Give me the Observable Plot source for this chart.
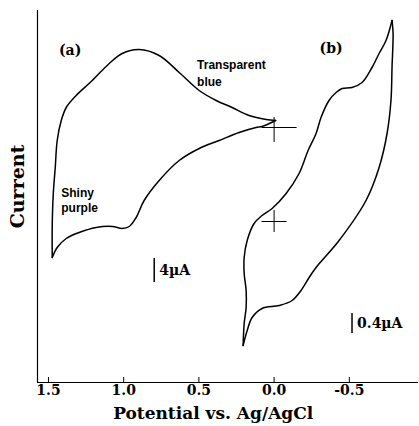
<!DOCTYPE html>
<html><head><meta charset="utf-8">
<script src="https://cdn.jsdelivr.net/npm/d3@7"></script>
<script src="https://cdn.jsdelivr.net/npm/@observablehq/plot@0.6"></script>
<style>body{margin:0;background:#fff;}</style>
</head><body><div id="chart"></div>
<script>
// Potential (V vs Ag/AgCl), current (arbitrary units)
const xTicks = [1.5, 1.0, 0.5, 0.0, -0.5];

// Panel (a): oxidation branch (upper) from 0.0 V to 1.5 V
const aUpper = [[-0.01,262],[0.053,263],[0.166,267],[0.279,275],[0.385,282],[0.498,292],[0.631,310],[0.764,327],[0.897,333],[1.010,329],[1.096,319],[1.209,302],[1.316,287],[1.382,275],[1.415,262],[1.442,242],[1.455,215],[1.468,189],[1.475,157],[1.475,125]];
// Panel (a): reduction branch (lower) from 1.5 V back to 0.0 V
const aLower = [[1.475,125],[1.442,135],[1.382,144],[1.296,150],[1.183,155],[1.076,156],[1.010,154],[0.963,156],[0.917,165],[0.864,182],[0.764,202],[0.631,222],[0.498,234],[0.365,242],[0.233,250],[0.120,255],[0.080,256],[-0.01,262]];
// Panel (b): branch from -0.8 V toward 0.2 V
const bUpper = [[-0.784,362],[-0.744,342],[-0.698,329],[-0.651,315],[-0.585,300],[-0.518,295],[-0.452,294],[-0.412,290],[-0.365,282],[-0.312,265],[-0.279,249],[-0.226,232],[-0.166,209],[-0.080,189],[0.013,174],[0.080,167],[0.133,159],[0.179,142],[0.199,125],[0.199,109],[0.186,92],[0.186,75],[0.199,59],[0.206,37]];
// Panel (b): branch from 0.2 V back to -0.8 V
const bLower = [[0.206,37],[0.179,52],[0.146,65],[0.080,74],[-0.033,77],[-0.120,82],[-0.179,92],[-0.233,105],[-0.279,115],[-0.432,142],[-0.611,182],[-0.698,215],[-0.751,249],[-0.777,282],[-0.784,315],[-0.791,349],[-0.784,362]];

// Crosshair markers (zero current reference)
const crossH = [{x1:0.08, x2:-0.153, y:255}, {x1:0.08, x2:-0.086, y:161}];
const crossV = [{x:0, y1:240, y2:265}, {x:0, y1:150, y2:172}];

// Current scale bars
const scaleBars = [{x:0.797, y1:100, y2:124, label:"4µA"}, {x:-0.518, y1:49, y2:69, label:"0.4µA"}];
const panelLabels = [{x:1.356, y:332, text:"(a)"}, {x:-0.379, y:334, text:"(b)"}];
const stateLabels = [{x:0.512, y:317, text:"Transparent"}, {x:0.512, y:300, text:"blue"}, {x:1.415, y:189, text:"Shiny"}, {x:1.415, y:174, text:"purple"}];

const toRows = (arr, s) => arr.map(([v, i]) => ({v, i, s}));
const curves = [
  ...toRows(aUpper, "a-ox"), ...toRows(aLower, "a-red"),
  ...toRows(bUpper, "b-1"), ...toRows(bLower, "b-2")
];

const serif = "DejaVu Serif";
const sans = "Liberation Sans, Arial, sans-serif";

const plot = Plot.plot({
  width: 419, height: 426,
  marginLeft: 37, marginRight: 1, marginTop: 10, marginBottom: 44,
  style: {background: "white", fontFamily: serif, color: "black"},
  x: {domain: [1.573, -0.96]},
  y: {domain: [0, 372], axis: null},
  marks: [
    Plot.axisX({ticks: xTicks, tickFormat: d => d.toFixed(1), tickSize: 0, tickPadding: 3,
      fontSize: 14, fontWeight: "bold", fontFamily: serif, label: null}),
    Plot.ruleX(xTicks, {y1: 0, y2: 5, stroke: "black", strokeWidth: 1}),
    Plot.ruleY([0], {stroke: "black", strokeWidth: 1.2}),
    Plot.ruleX([1.573], {stroke: "black", strokeWidth: 1.2}),
    Plot.line(curves, {x: "v", y: "i", z: "s", curve: "catmull-rom", stroke: "black", strokeWidth: 1.5}),
    Plot.ruleY(crossH, {x1: "x1", x2: "x2", y: "y", stroke: "black", strokeWidth: 1}),
    Plot.ruleX(crossV, {x: "x", y1: "y1", y2: "y2", stroke: "black", strokeWidth: 1}),
    Plot.ruleX(scaleBars, {x: "x", y1: "y1", y2: "y2", stroke: "black", strokeWidth: 1.5}),
    Plot.text(scaleBars, {x: "x", y: d => (d.y1 + d.y2) / 2, text: "label", textAnchor: "start", dx: 5,
      fontSize: 14, fontWeight: "bold", fontFamily: serif}),
    Plot.text(panelLabels, {x: "x", y: "y", text: "text", fontSize: 14, fontWeight: "bold", fontFamily: serif}),
    Plot.text(stateLabels, {x: "x", y: "y", text: "text", textAnchor: "start", fontSize: 12, fontWeight: "bold", fontFamily: sans}),
    Plot.text(["Potential vs. Ag/AgCl"], {x: 0.405, y: 0, dy: 31, text: d => d, fontSize: 17, fontWeight: "bold", fontFamily: serif}),
    Plot.text(["Current"], {x: 1.573, y: 196, dx: -20, rotate: -90, text: d => d, fontSize: 19, fontWeight: "bold", fontFamily: serif})
  ]
});
document.getElementById("chart").append(plot);
</script></body></html>
